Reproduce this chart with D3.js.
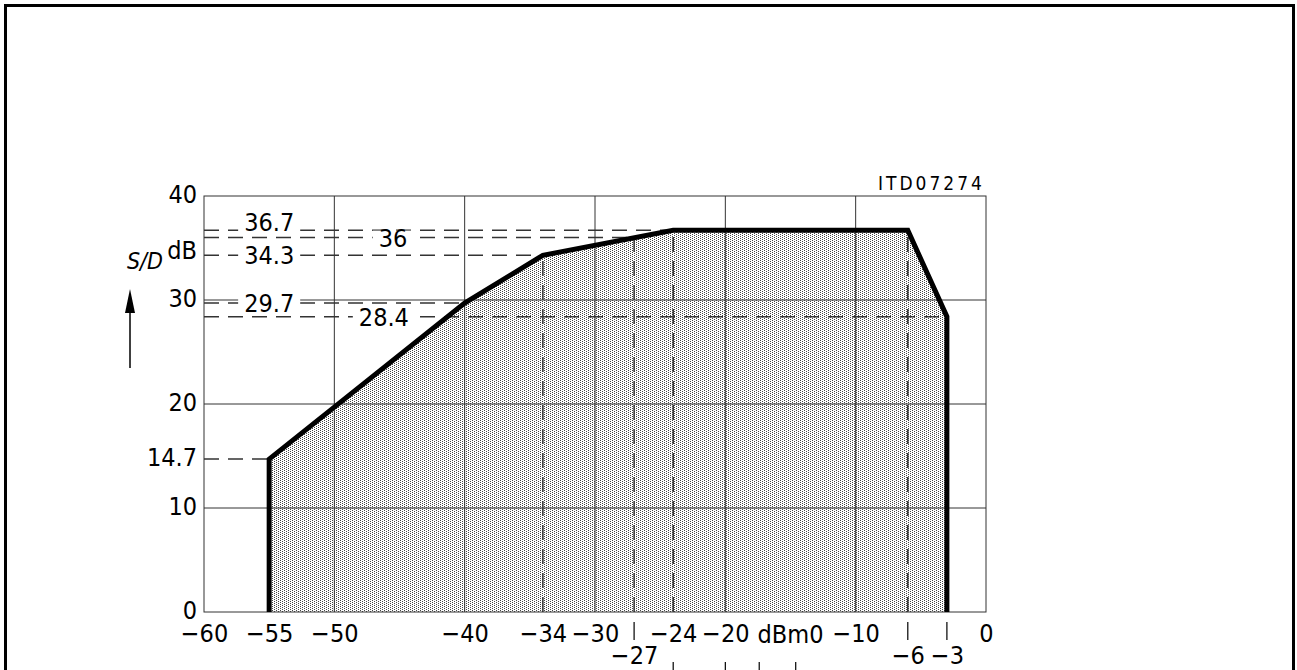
<!DOCTYPE html>
<html>
    <head>
        <meta charset="utf-8">
        <title>S/D vs dBm0</title>
        <script type="text/javascript" src="https://cdn.jsdelivr.net/npm/d3@7"></script>
        <style>
            body{ margin:0; background:#fff; }
            text{
                font-family: "DejaVu Sans Condensed", "DejaVu Sans", sans-serif;
                font-stretch: condensed;
                fill: #000;
            }
            .grid{ stroke:#333; stroke-width:1px; fill:none; }
            .ref{ stroke:#333; stroke-width:1.5px; stroke-dasharray:15 9; fill:none; }
            #curve{ stroke:#000; stroke-width:5px; fill:none; stroke-linejoin:miter; }
            .axis path, .axis line{ display:none; }
        </style>
    </head>
    <body>
        <script type="text/javascript">
            // data
            let xTicks = [-60,-55,-50,-40,-34,-30,-24,-20,-10,0]
            let xTicksLow = [-27,-6,-3]
            let yTicks = [0,10,14.7,20,30,40]
            let xGrid = [-50,-40,-30,-20,-10]
            let yGrid = [10,20,30]
            let curve = [[-55,0],[-55,14.7],[-40,29.7],[-34,34.3],[-24,36.7],[-6,36.7],[-3,28.4],[-3,0]]
            // horizontal dashed lines: level, end x
            let hRefs = [[36.7,-24],[36,-27],[34.3,-34],[29.7,-40],[28.4,-3],[14.7,-55]]
            // vertical dashed lines: x, top level
            let vRefs = [[-34,34.3],[-27,36],[-24,36.7],[-6,36.7]]
            // labels on the dashed lines: text, x, level
            let refLabels = [["36.7",-55,36.7],["34.3",-55,34.3],["29.7",-55,29.7],["28.4",-46.2,28.4],["36",-45.5,36]]

            let w = 1297
            let h = 670
            let fs = 25
            let svg = d3.select("body")
                        .append("svg")
                        .attr("width",w)
                        .attr("height",h)

            // outer frame (bottom runs off the page)
            svg.append("rect")
                .attr("x",5.5).attr("y",5.5)
                .attr("width",1288).attr("height",700)
                .attr("fill","none").attr("stroke","#000").attr("stroke-width",3)

            let xScale = d3.scaleLinear().domain([-60,0]).range([204,986])
            let yScale = d3.scaleLinear().domain([0,40]).range([612,196])

            // dotted fill
            let pat = svg.append("defs").append("pattern")
                        .attr("id","dots")
                        .attr("patternUnits","userSpaceOnUse")
                        .attr("width",4).attr("height",2)
            pat.append("rect").attr("width",4).attr("height",2).attr("fill","#fff")
            pat.append("rect").attr("x",0).attr("y",0).attr("width",1).attr("height",1).attr("fill","#444")
            pat.append("rect").attr("x",2).attr("y",1).attr("width",1).attr("height",1).attr("fill","#444")

            let line = d3.line()
                        .x(d=>xScale(d[0]))
                        .y(d=>yScale(d[1]))

            svg.append("path")
                .datum(curve)
                .attr("d",line)
                .attr("fill","url(#dots)")
                .attr("stroke","none")

            // grid
            svg.selectAll(".vgrid")
                .data(xGrid)
                .enter()
                .append("line")
                .attr("class","grid")
                .attr("x1",d=>xScale(d)).attr("x2",d=>xScale(d))
                .attr("y1",yScale(0)).attr("y2",yScale(40))
            svg.selectAll(".hgrid")
                .data(yGrid)
                .enter()
                .append("line")
                .attr("class","grid")
                .attr("x1",xScale(-60)).attr("x2",xScale(0))
                .attr("y1",d=>yScale(d)).attr("y2",d=>yScale(d))
            svg.append("rect")
                .attr("class","grid")
                .attr("x",xScale(-60)).attr("y",yScale(40))
                .attr("width",xScale(0)-xScale(-60))
                .attr("height",yScale(0)-yScale(40))

            // dashed reference lines
            svg.selectAll(".href")
                .data(hRefs)
                .enter()
                .append("line")
                .attr("class","ref")
                .attr("x1",xScale(-60)).attr("x2",d=>xScale(d[1]))
                .attr("y1",d=>yScale(d[0])).attr("y2",d=>yScale(d[0]))
            svg.selectAll(".vref")
                .data(vRefs)
                .enter()
                .append("line")
                .attr("class","ref")
                .attr("x1",d=>xScale(d[0])).attr("x2",d=>xScale(d[0]))
                .attr("y1",yScale(0)).attr("y2",d=>yScale(d[1]))

            // labels that break the dashed lines; the top one sits a bit higher
            let raised = d=>d[0]==="36.7"
            let lab = svg.selectAll(".reflab")
                        .data(refLabels)
                        .enter()
                        .append("g")
                        .attr("transform",d=>"translate("+xScale(d[1])+","+(yScale(d[2])-(raised(d)?8:0))+")")
            let bg = lab.append("rect")
                .attr("y",d=>raised(d)?-8:-7)
                .attr("height",d=>raised(d)?18:15)
                .attr("fill","#fff")
            let lt = lab.append("text")
                .attr("text-anchor","middle")
                .attr("dy","0.36em")
                .attr("font-size",fs)
                .text(d=>d[0])
            lt.each(function(d,i){
                let tw = this.getComputedTextLength()
                d3.select(bg.nodes()[i]).attr("x",-tw/2-6).attr("width",tw+12)
            })

            // curve
            svg.append("path")
                .datum(curve)
                .attr("id","curve")
                .attr("d",line)

            // axes
            let fmt = d=>String(d).replace("-","\u2212")
            let xAxis = d3.axisBottom(xScale)
                            .tickValues(xTicks)
                            .tickSize(0)
                            .tickPadding(12)
                            .tickFormat(fmt)
            let gx = svg.append("g")
                .attr("class","axis")
                .attr("transform","translate(0,"+yScale(0)+")")
                .call(xAxis)
            gx.selectAll("text").attr("font-size",fs).attr("font-family",null).attr("fill","#000")

            let xAxisLow = d3.axisBottom(xScale)
                            .tickValues(xTicksLow)
                            .tickSize(0)
                            .tickPadding(34)
                            .tickFormat(fmt)
            let gx2 = svg.append("g")
                .attr("class","axis")
                .attr("transform","translate(0,"+yScale(0)+")")
                .call(xAxisLow)
            gx2.selectAll("text").attr("font-size",fs).attr("font-family",null).attr("fill","#000")
            svg.selectAll(".lowtick")
                .data(xTicksLow)
                .enter()
                .append("line")
                .attr("x1",d=>xScale(d)).attr("x2",d=>xScale(d))
                .attr("y1",yScale(0)+10).attr("y2",yScale(0)+28)
                .attr("stroke","#000").attr("stroke-width",1.2)

            let yAxis = d3.axisLeft(yScale)
                            .tickValues(yTicks)
                            .tickSize(0)
                            .tickPadding(7)
                            .tickFormat(d=>d)
            let gy = svg.append("g")
                .attr("class","axis")
                .attr("transform","translate("+xScale(-60)+",-2)")
                .call(yAxis)
            gy.selectAll("text").attr("font-size",fs).attr("font-family",null).attr("fill","#000")

            svg.append("text")
                .attr("x",xScale(-15)).attr("y",yScale(0)+22)
                .attr("text-anchor","middle")
                .attr("dy","0.36em")
                .attr("font-size",fs)
                .text("dBm0")

            svg.append("text")
                .attr("x",197).attr("y",yScale(34.3)-5)
                .attr("text-anchor","end")
                .attr("dy","0.36em")
                .attr("font-size",fs)
                .text("dB")
            svg.append("text")
                .attr("x",145).attr("y",261)
                .attr("text-anchor","middle")
                .attr("dy","0.36em")
                .attr("font-size",23)
                .attr("font-style","italic")
                .text("S/D")

            // arrow
            svg.append("line")
                .attr("x1",130).attr("x2",130)
                .attr("y1",368).attr("y2",305)
                .attr("stroke","#000").attr("stroke-width",1.5)
            svg.append("path")
                .attr("d","M130,289 L125,313 L135,313 Z")
                .attr("fill","#000")

            svg.append("text")
                .attr("x",985).attr("y",190)
                .attr("text-anchor","end")
                .attr("font-size",19)
                .style("letter-spacing","3px")
                .text("ITD07274")

            // cut-off marks at the bottom edge
            svg.selectAll(".stub")
                .data([-24,-20,-17.4,-14.6])
                .enter()
                .append("line")
                .attr("x1",d=>xScale(d)).attr("x2",d=>xScale(d))
                .attr("y1",662).attr("y2",670)
                .attr("stroke","#000").attr("stroke-width",1.2)
        </script>
    </body>
</html>
